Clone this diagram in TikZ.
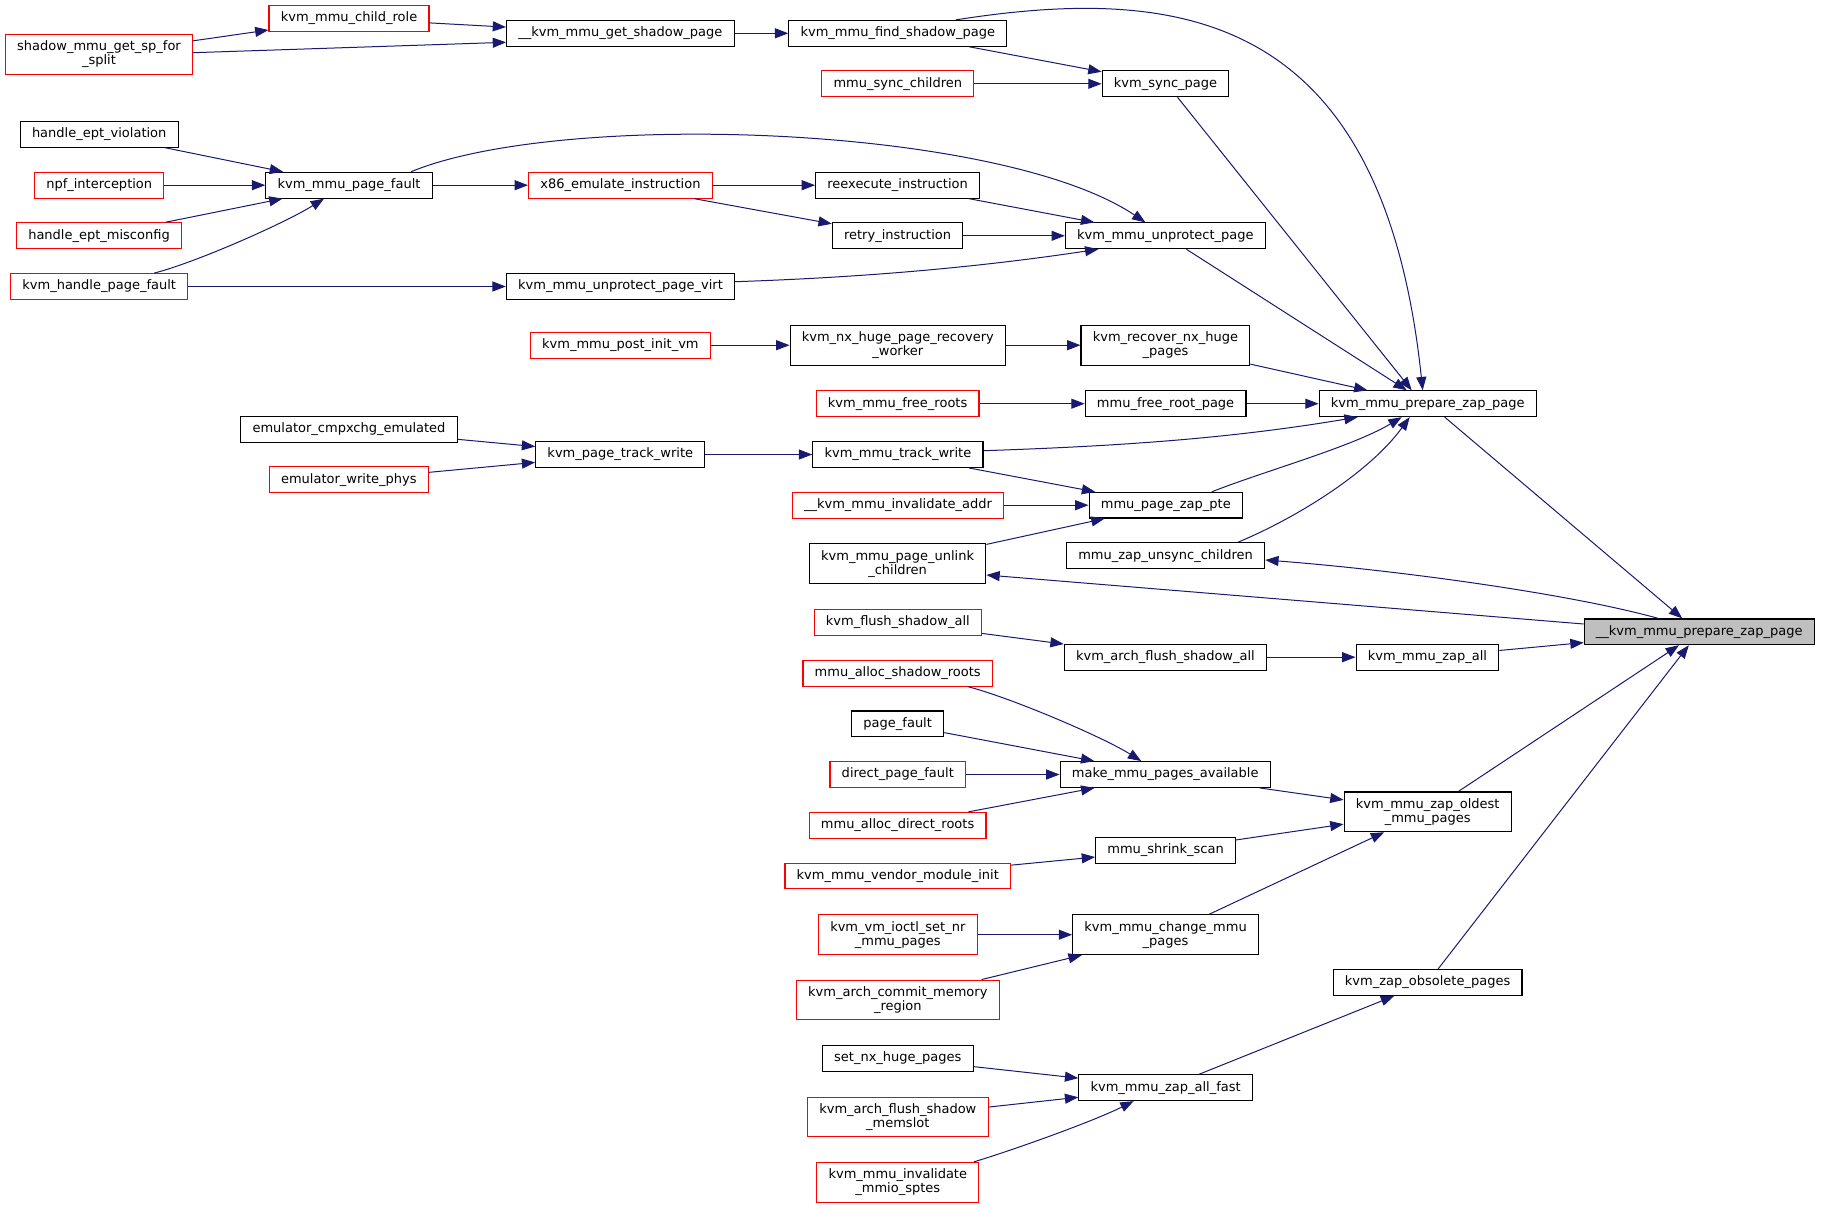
\documentclass[tikz,border=0pt]{standalone}
\usepackage{fontspec}
\setmainfont{DejaVu Sans}
\usetikzlibrary{arrows.meta, calc}

\definecolor{callblue}{HTML}{191970}
\definecolor{rootgray}{HTML}{BFBFBF}

\begin{document}
\begin{tikzpicture}[x = 0.75pt, y = -0.75pt,
        func/.style = {draw = #1, fill = white, line width = 0.85pt, align = center, inner xsep = 8.8pt, inner ysep = 4.8pt, minimum height = 19.2pt, font = \fontsize{9.75}{10.5}\selectfont},
        call/.style = {draw = callblue, line width = 0.75pt, -{Triangle[length = 10pt, width = 7.5pt]}}]
    \useasboundingbox (0, 0) rectangle (1824, 1209);

    % left columns
    \node[func = red]   (splitsp)    at (99, 54.3)     {shadow\_mmu\_get\_sp\_for\\\_split};
    \node[func = red]   (childrole)  at (349, 18.5)    {kvm\_mmu\_child\_role};
    \node[func = black] (getsp)      at (620.4, 33.3)  {\_\_kvm\_mmu\_get\_shadow\_page};
    \node[func = black] (eptviol)    at (99.2, 134.3)  {handle\_ept\_violation};
    \node[func = red]   (npf)        at (99.2, 185.2)  {npf\_interception};
    \node[func = black] (pagefault)  at (349, 185.2)   {kvm\_mmu\_page\_fault};
    \node[func = red]   (emulate)    at (620.4, 185.2) {x86\_emulate\_instruction};
    \node[func = red]   (eptmisc)    at (99, 235.7)    {handle\_ept\_misconfig};
    \node[func = red]   (handlepf)   at (99.2, 286.5)  {kvm\_handle\_page\_fault};
    \node[func = black] (unprotvirt) at (620.5, 286.5) {kvm\_mmu\_unprotect\_page\_virt};
    \node[func = red]   (postinit)   at (620.4, 345.2) {kvm\_mmu\_post\_init\_vm};
    \node[func = black] (cmpxchg)    at (349, 429.2)   {emulator\_cmpxchg\_emulated};
    \node[func = red]   (writephys)  at (348.8, 479.8) {emulator\_write\_phys};
    \node[func = black] (trackwrite) at (620.3, 454.5) {kvm\_page\_track\_write};

    % middle column
    \node[func = black] (findsp)      at (897.8, 33.3)   {kvm\_mmu\_find\_shadow\_page};
    \node[func = red]   (syncch)      at (897.8, 83.8)   {mmu\_sync\_children};
    \node[func = black] (reexec)      at (897.6, 185.2)  {reexecute\_instruction};
    \node[func = black] (retry)       at (897.6, 235.8)  {retry\_instruction};
    \node[func = black] (nxworker)    at (897.8, 345.2)  {kvm\_nx\_huge\_page\_recovery\\\_worker};
    \node[func = red]   (freeroots)   at (897.6, 403.7)  {kvm\_mmu\_free\_roots};
    \node[func = black] (mmutrack)    at (897.9, 454.5)  {kvm\_mmu\_track\_write};
    \node[func = red]   (invaddr)     at (898, 505.2)    {\_\_kvm\_mmu\_invalidate\_addr};
    \node[func = black] (unlink)      at (897.6, 563.8)  {kvm\_mmu\_page\_unlink\\\_children};
    \node[func = red]   (flushall)    at (897.8, 622.5)  {kvm\_flush\_shadow\_all};
    \node[func = red]   (allocshadow) at (897.7, 673.2)  {mmu\_alloc\_shadow\_roots};
    \node[func = black] (pgfault)     at (897.7, 723.8)  {page\_fault};
    \node[func = red]   (directpf)    at (897.8, 774.5)  {direct\_page\_fault};
    \node[func = red]   (allocdirect) at (897.6, 825.3)  {mmu\_alloc\_direct\_roots};
    \node[func = red]   (vendorinit)  at (897.8, 876)    {kvm\_mmu\_vendor\_module\_init};
    \node[func = red]   (setnr)       at (897.8, 934.7)  {kvm\_vm\_ioctl\_set\_nr\\\_mmu\_pages};
    \node[func = red]   (commitmem)   at (897.8, 1000)   {kvm\_arch\_commit\_memory\\\_region};
    \node[func = black] (setnx)       at (897.8, 1058.3) {set\_nx\_huge\_pages};
    \node[func = red]   (memslot)     at (897.8, 1117)   {kvm\_arch\_flush\_shadow\\\_memslot};
    \node[func = red]   (mmiosptes)   at (897.8, 1182.3) {kvm\_mmu\_invalidate\\\_mmio\_sptes};

    % right columns
    \node[func = black] (syncpg)    at (1165.5, 83.8)   {kvm\_sync\_page};
    \node[func = black] (unprot)    at (1165.4, 235.8)  {kvm\_mmu\_unprotect\_page};
    \node[func = black] (recovernx) at (1165.4, 345.2)  {kvm\_recover\_nx\_huge\\\_pages};
    \node[func = black] (freeroot)  at (1165.6, 403.7)  {mmu\_free\_root\_page};
    \node[func = black] (zappte)    at (1165.8, 505.2)  {mmu\_page\_zap\_pte};
    \node[func = black] (unsync)    at (1165.6, 555.8)  {mmu\_zap\_unsync\_children};
    \node[func = black] (archflush) at (1165.4, 657.2)  {kvm\_arch\_flush\_shadow\_all};
    \node[func = black] (makeavail) at (1165.2, 774.5)  {make\_mmu\_pages\_available};
    \node[func = black] (shrink)    at (1165.6, 850.3)  {mmu\_shrink\_scan};
    \node[func = black] (changemmu) at (1165.6, 934.7)  {kvm\_mmu\_change\_mmu\\\_pages};
    \node[func = black] (zapfast)   at (1165.6, 1087.7) {kvm\_mmu\_zap\_all\_fast};
    \node[func = black] (pz)        at (1427.7, 403.7)  {kvm\_mmu\_prepare\_zap\_page};
    \node[func = black] (zapall)    at (1427.4, 657.2)  {kvm\_mmu\_zap\_all};
    \node[func = black] (zapoldest) at (1427.7, 811.8)  {kvm\_mmu\_zap\_oldest\\\_mmu\_pages};
    \node[func = black] (zapobs)    at (1427.6, 982.5)  {kvm\_zap\_obsolete\_pages};
    \node[func = black, fill = rootgray] (root) at (1699.2, 631.8) {\_\_kvm\_mmu\_prepare\_zap\_page};

    % calls, top part
    \draw[call] (splitsp) -- (childrole);
    \draw[call] ($(splitsp.east)+(0, -1.6)$) -- ($(getsp.west)+(0, 9)$);
    \draw[call] (childrole) -- (getsp);
    \draw[call] (getsp) -- (findsp);
    \draw[call] (findsp) -- (syncpg);
    \draw[call] (syncch) -- (syncpg);
    \draw[call] ($(findsp.north)+(58, 0)$) .. controls +(224, -35) and +(-40, -380) .. ($(pz.north)+(-5, 0)$);
    \draw[call] ($(syncpg.south)+(12, 0)$) -- ($(pz.north)+(-16, 0)$);
    \draw[call] (eptviol) -- (pagefault);
    \draw[call] (npf) -- (pagefault);
    \draw[call] (eptmisc) -- (pagefault);
    \draw[call] ($(handlepf.north)+(55, 0)$) .. controls +(40, -10) and +(-40, 25) .. ($(pagefault.south)+(-25, 0)$);
    \draw[call] (pagefault) -- (emulate);
    \draw[call] ($(pagefault.north)+(62, 0)$) .. controls +(150, -62) and +(-145.5, -97.7) .. ($(unprot.north)+(-20, 0)$);
    \draw[call] (emulate) -- (reexec);
    \draw[call] (emulate) -- (retry);
    \draw[call] (reexec) -- (unprot);
    \draw[call] (retry) -- (unprot);
    \draw[call] (handlepf) -- (unprotvirt);
    \draw[call] ($(unprotvirt.east)+(0, -4.8)$) .. controls +(150, -5) and +(-100, 15) .. ($(unprot.south)+(-67, 0)$);
    \draw[call] (unprot) -- (pz);
    \draw[call] (postinit) -- (nxworker);
    \draw[call] (nxworker) -- (recovernx);
    \draw[call] (recovernx) -- (pz);
    \draw[call] (freeroots) -- (freeroot);
    \draw[call] (freeroot) -- (pz);

    % calls, middle part
    \draw[call] (cmpxchg) -- (trackwrite);
    \draw[call] (writephys) -- (trackwrite);
    \draw[call] (trackwrite) -- (mmutrack);
    \draw[call] ($(mmutrack.east)+(0, -3.8)$) .. controls +(150, -5) and +(-120, 20) .. ($(pz.south)+(-70, 0)$);
    \draw[call] (mmutrack) -- (zappte);
    \draw[call] (invaddr) -- (zappte);
    \draw[call] (unlink) -- (zappte);
    \draw[call] ($(zappte.north)+(46, 0)$) .. controls +(50, -20) and +(-50, 30) .. ($(pz.south)+(-26, 0)$);
    \draw[call] ($(unsync.north)+(72, 0)$) .. controls +(60, -25) and +(-40, 55) .. ($(pz.south)+(-18, 0)$);
    \draw[call] ($(root.north)+(-41, 0)$) .. controls +(-90, -25) and +(130, 10) .. ($(unsync.east)+(0, 4.2)$);
    \draw[call] ($(root.west)+(0, -7.8)$) -- ($(unlink.east)+(0, 11.2)$);
    \draw[call] ($(pz.south)+(17, 0)$) -- ($(root.north)+(-17, 0)$);
    \draw[call] (flushall) -- (archflush);
    \draw[call] (archflush) -- (zapall);
    \draw[call] (zapall) -- (root);

    % calls, bottom part
    \draw[call] ($(allocshadow.south)+(70, 0)$) .. controls +(40, 10) and +(-40, -25) .. ($(makeavail.north)+(-24, 0)$);
    \draw[call] (pgfault) -- (makeavail);
    \draw[call] (directpf) -- (makeavail);
    \draw[call] (allocdirect) -- (makeavail);
    \draw[call] (makeavail) -- (zapoldest);
    \draw[call] (shrink) -- (zapoldest);
    \draw[call] (changemmu) -- (zapoldest);
    \draw[call] (zapoldest) -- (root);
    \draw[call] (vendorinit) -- (shrink);
    \draw[call] (setnr) -- (changemmu);
    \draw[call] (commitmem) -- (changemmu);
    \draw[call] (zapobs) -- (root);
    \draw[call] (setnx) -- (zapfast);
    \draw[call] (memslot) -- (zapfast);
    \draw[call] ($(mmiosptes.north)+(76, 0)$) .. controls +(40, -12) and +(-40, 20) .. ($(zapfast.south)+(-32, 0)$);
    \draw[call] (zapfast) -- (zapobs);
\end{tikzpicture}
\end{document}
